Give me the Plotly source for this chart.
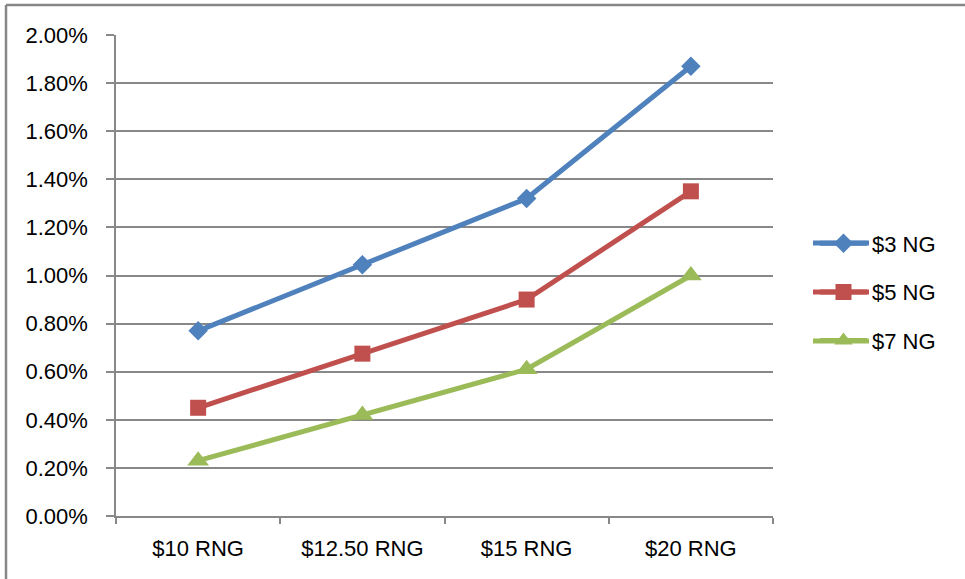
import plotly.graph_objects as go

categories = ["$10 RNG", "$12.50 RNG", "$15 RNG", "$20 RNG"]
series_names = ["$3 NG", "$5 NG", "$7 NG"]
ng3 = [0.0077, 0.01045, 0.0132, 0.0187]
ng5 = [0.0045, 0.00675, 0.0090, 0.0135]
ng7 = [0.0023, 0.0042, 0.0061, 0.0100]
y_ticks = [0.0, 0.002, 0.004, 0.006, 0.008, 0.010, 0.012, 0.014, 0.016, 0.018, 0.020]

colors = ["#4F81BD", "#C0504D", "#9BBB59"]
symbols = ["diamond", "square", "triangle-up"]
sizes = [15, 16, 19]

FONT = "Liberation Sans"
GRID = "#888888"

fig = go.Figure()
for i, (name, vals) in enumerate(zip(series_names, [ng3, ng5, ng7])):
    fig.add_trace(go.Scatter(
        x=categories, y=vals, name=name, mode="lines+markers",
        line=dict(color=colors[i], width=5),
        marker=dict(symbol=symbols[i], size=sizes[i], color=colors[i]),
        legendgroup=name,
    ))

L, R, T, B = 116, 192, 35, 63
W, H = 965, 579
pw, ph = W - L - R, H - T - B

# legend line extensions (Excel-style longer legend keys)
legend_rows = [243, 292, 341]
shapes = []
for c, yy in zip(colors, legend_rows):
    shapes.append(dict(type="line", xref="paper", yref="paper",
                       x0=(813 - L) / pw, x1=(869 - L) / pw,
                       y0=(H - B - yy) / ph, y1=(H - B - yy) / ph,
                       line=dict(color=c, width=5)))

shapes += [
    dict(type="line", xref="paper", yref="paper",
         x0=(6 - L) / pw, x1=(W - L) / pw, y0=(H - B - 5) / ph, y1=(H - B - 5) / ph,
         line=dict(color="#868686", width=2.5)),
    dict(type="line", xref="paper", yref="paper",
         x0=(6 - L) / pw, x1=(6 - L) / pw, y0=(H - B - 5) / ph, y1=-(B) / ph,
         line=dict(color="#868686", width=2.5)),
]

fig.update_layout(
    width=W, height=H,
    margin=dict(l=L, r=R, t=T, b=B),
    paper_bgcolor="white", plot_bgcolor="white",
    font=dict(family=FONT, size=22, color="#000000"),
    showlegend=True,
    legend=dict(x=(815 - L) / pw, y=(H - B - 292) / ph, xanchor="left", yanchor="middle",
                font=dict(size=22), tracegroupgap=17, traceorder="grouped",
                itemwidth=47, bgcolor="rgba(0,0,0,0)"),
    xaxis=dict(type="category", range=[-0.5, 3.5], tickson="boundaries",
               showgrid=False, showline=True, linecolor=GRID, linewidth=1.5,
               ticks="outside", ticklen=6, tickcolor=GRID, tickwidth=1.5,
               ticklabelstandoff=12, zeroline=False),
    yaxis=dict(range=[0, 0.02], tickvals=y_ticks, tickformat=".2%",
               showgrid=True, gridcolor=GRID, gridwidth=1.5,
               showline=True, linecolor=GRID, linewidth=1.5,
               ticks="outside", ticklen=8, tickcolor=GRID, tickwidth=1.5,
               ticklabelstandoff=14, zeroline=False),
    shapes=shapes,
)

fig.write_html("out.html")
